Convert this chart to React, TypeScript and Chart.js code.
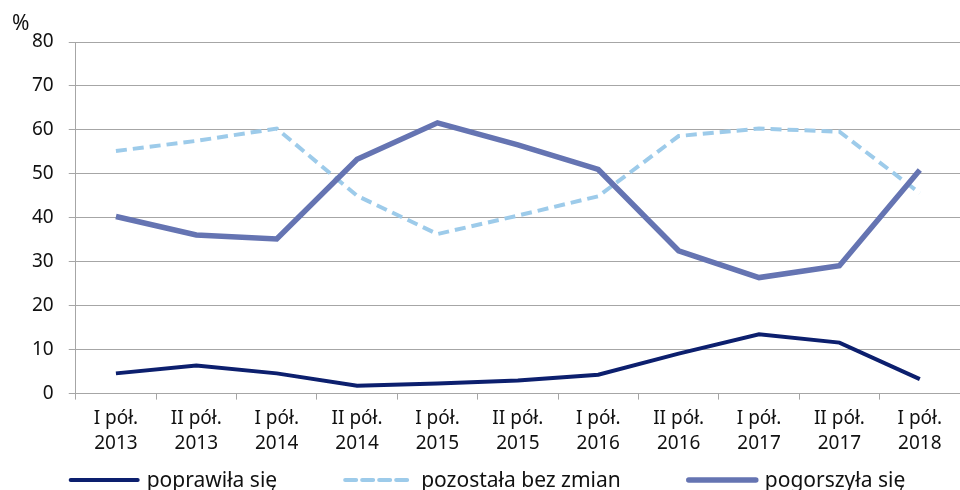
import React, { useEffect, useRef } from "react";
import { Chart, registerables } from "chart.js";

Chart.register(...registerables);

const categories: string[][] = [
  ["I pół.", "2013"], ["II pół.", "2013"], ["I pół.", "2014"], ["II pół.", "2014"],
  ["I pół.", "2015"], ["II pół.", "2015"], ["I pół.", "2016"], ["II pół.", "2016"],
  ["I pół.", "2017"], ["II pół.", "2017"], ["I pół.", "2018"],
];
const improved = [4.6, 6.4, 4.6, 1.8, 2.3, 3.0, 4.3, 9.1, 13.5, 11.6, 3.3];
const unchanged = [55.2, 57.5, 60.3, 45.0, 36.3, 40.5, 44.9, 58.6, 60.3, 59.6, 45.6];
const worsened = [40.3, 36.1, 35.2, 53.3, 61.6, 56.6, 51.0, 32.5, 26.4, 29.1, 50.9];
const seriesNames = ["poprawiła się", "pozostała bez zmian", "pogorszyła się"];
const yMin = 0;
const yMax = 80;
const yStep = 10;
const unitLabel = "%";

const FONT = "'Noto Sans', sans-serif";
const TEXT = "#111111";

const legendAndUnit = {
  id: "legendAndUnit",
  afterDraw(chart: any) {
    const ctx = chart.ctx as CanvasRenderingContext2D;
    ctx.save();
    ctx.fillStyle = TEXT;
    ctx.textBaseline = "alphabetic";
    ctx.textAlign = "left";
    ctx.font = `21px ${FONT}`;
    ctx.fillText(unitLabel, 12, 30);

    ctx.font = `21px ${FONT}`;
    const sample = 71;
    const textGap = 7;
    const gap = 66;
    const ds = chart.data.datasets;
    const widths = ds.map((d: any) => sample + textGap + ctx.measureText(d.label).width);
    const total = widths.reduce((a: number, b: number) => a + b, 0) + gap * (ds.length - 1);
    let x = 487 - total / 2;
    const y = 480;
    ds.forEach((d: any, i: number) => {
      ctx.save();
      ctx.strokeStyle = d.borderColor;
      ctx.lineWidth = d.borderWidth;
      ctx.setLineDash(d.borderDash || []);
      ctx.lineCap = "round";
      ctx.beginPath();
      ctx.moveTo(x + 2, y);
      ctx.lineTo(x + sample - 2, y);
      ctx.stroke();
      ctx.restore();
      ctx.fillStyle = TEXT;
      ctx.fillText(d.label, x + sample + textGap, 487);
      x += widths[i] + gap;
    });
    ctx.restore();
  },
};

export default function App() {
  const ref = useRef<HTMLCanvasElement | null>(null);

  useEffect(() => {
    if (!ref.current) return;
    const chart = new Chart(ref.current, {
      type: "line",
      data: {
        labels: categories,
        datasets: [
          {
            label: seriesNames[0],
            data: improved,
            borderColor: "#0c1f6e",
            borderWidth: 4,
            pointRadius: 0,
            tension: 0,
            order: 2,
          },
          {
            label: seriesNames[1],
            data: unchanged,
            borderColor: "#9dcbea",
            borderWidth: 4,
            borderDash: [11, 6],
            pointRadius: 0,
            tension: 0,
            order: 1,
          },
          {
            label: seriesNames[2],
            data: worsened,
            borderColor: "#6574b2",
            borderWidth: 5.5,
            pointRadius: 0,
            tension: 0,
            order: 0,
          },
        ],
      },
      options: {
        animation: false,
        responsive: false,
        maintainAspectRatio: false,
        layout: { padding: { left: 17, right: 0, top: 42, bottom: 27 } },
        plugins: {
          legend: { display: false },
          tooltip: { enabled: false },
        },
        scales: {
          x: {
            offset: true,
            grid: {
              offset: true,
              drawOnChartArea: false,
              drawTicks: true,
              tickLength: 6,
              color: "#a6a6a6",
            },
            border: { display: false },
            ticks: {
              color: TEXT,
              font: { family: FONT, size: 19, lineHeight: 1.3 },
              padding: 7,
              maxRotation: 0,
              autoSkip: false,
            },
          },
          y: {
            min: yMin,
            max: yMax,
            grid: {
              color: "#a6a6a6",
              lineWidth: 1,
              tickLength: 7,
            },
            border: { display: true, color: "#a6a6a6", width: 1 },
            ticks: {
              stepSize: yStep,
              color: TEXT,
              font: { family: FONT, size: 19 },
              padding: 15,
            },
          },
        },
      },
      plugins: [legendAndUnit],
    });
    return () => chart.destroy();
  }, []);

  return (
    <div style={{ position: "fixed", left: 0, top: 0, width: 960, height: 490, background: "#fff" }}>
      <canvas ref={ref} width={960} height={490} style={{ display: "block" }} />
    </div>
  );
}
